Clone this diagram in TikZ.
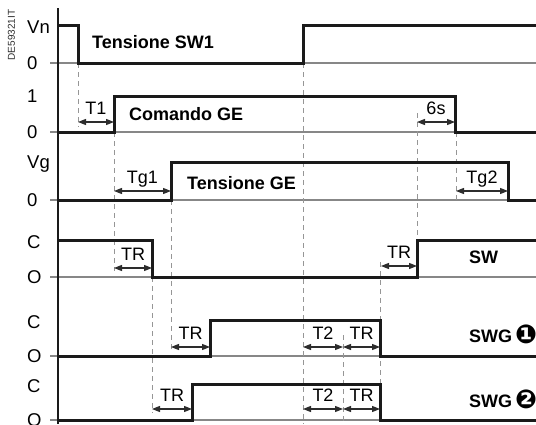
\documentclass[tikz,border=0pt]{standalone}
\usepackage{fontspec}
\setmainfont{Liberation Sans}
\newfontfamily\symfont{DejaVu Sans}
\usetikzlibrary{arrows.meta}
\definecolor{TDBlack}{RGB}{26,26,26}
\definecolor{TDGray}{RGB}{135,135,135}
\definecolor{TDDash}{RGB}{150,150,150}
\definecolor{TDArrow}{RGB}{45,45,45}
\newcommand{\swgmark}[1]{\raisebox{-1.5pt}{\fontsize{26}{26}\symfont #1}}

\begin{document}
\begin{tikzpicture}[x=1pt,y=-1pt,
  signal/.style={draw=TDBlack,line width=3pt,line join=miter},
  baseline/.style={draw=TDGray,line width=1.2pt},
  guide/.style={draw=TDDash,line width=1pt,dash pattern=on 5pt off 4pt},
  span/.style={{Triangle[length=8pt,width=6pt]}-{Triangle[length=8pt,width=6pt]},draw=TDArrow,line width=1.2pt},
  level/.style={anchor=west,font=\fontsize{18.5}{20}\selectfont,inner sep=0pt},
  tag/.style={anchor=base,font=\fontsize{18}{20}\selectfont,inner sep=0pt},
  title/.style={anchor=base west,font=\fontsize{18}{20}\selectfont\bfseries,inner sep=0pt}
]
\useasboundingbox (0,0) rectangle (536,424);

% reference code
\node[rotate=90,font=\fontsize{10}{12}\selectfont,text=TDArrow,inner sep=0pt] (ref) at (11.5,35) {DE59321IT};

% level lines and axis
\foreach \y in {63,132,200,277,356,420} \draw[baseline] (50,\y) -- (536,\y);
\draw[draw=TDBlack,line width=1.2pt] (58,8) -- (58,424);

% level labels
\foreach \t/\y [count=\i] in {Vn/27,0/63,1/96,0/132,Vg/164,0/200,C/242,O/277,C/322,O/356,C/386,O/420}
  \node[level] (lv\i) at (27,\y) {\t};

% guide lines
\foreach \x/\ya/\yb in {78/63/127,114/132/271,152/277/413,171/200/351,303/63/424,343/335/424,380/262/384,417/113/240,456/132/200}
  \draw[guide] (\x,\ya) -- (\x,\yb);

% signals
\draw[signal] (58,25) -- (78,25) -- (78,63) -- (303,63) -- (303,25) -- (536,25);
\draw[signal] (58,132) -- (114,132) -- (114,96) -- (455,96) -- (455,132) -- (536,132);
\draw[signal] (58,200) -- (171,200) -- (171,162) -- (508,162) -- (508,200) -- (536,200);
\draw[signal] (58,240) -- (152,240) -- (152,277) -- (417,277) -- (417,240) -- (536,240);
\draw[signal] (58,356) -- (210,356) -- (210,320) -- (380,320) -- (380,356) -- (536,356);
\draw[signal] (58,420) -- (192,420) -- (192,384) -- (380,384) -- (380,420) -- (536,420);

% signal names
\node[title] (sw1) at (92,48) {Tensione SW1};
\node[title] (cge) at (129,120) {Comando GE};
\node[title] (tge) at (187,189) {Tensione GE};
\node[title] (sw) at (469,263) {SW};
\node[title] (swg1) at (469,342) {SWG\,\swgmark{❶}};
\node[title] (swg2) at (469,407) {SWG\,\swgmark{❷}};

% delays
\foreach \a/\b/\y/\t [count=\i] in {78/114/122/T1,417/455/122/6s,114/171/191/Tg1,456/508/191/Tg2,
    114/152/268/TR,381/417/266/TR,171/210/347/TR,303/343/347/T2,343/380/347/TR,
    152/192/409/TR,303/343/409/T2,343/380/409/TR}{
  \coordinate (d\i a) at (\a,\y);
  \coordinate (d\i b) at (\b,\y);
  \draw[span] (d\i a) -- (d\i b);
  \node[tag] (dt\i) at ({(\a+\b)/2},{\y-8}) {\t};
}
\end{tikzpicture}
\end{document}
